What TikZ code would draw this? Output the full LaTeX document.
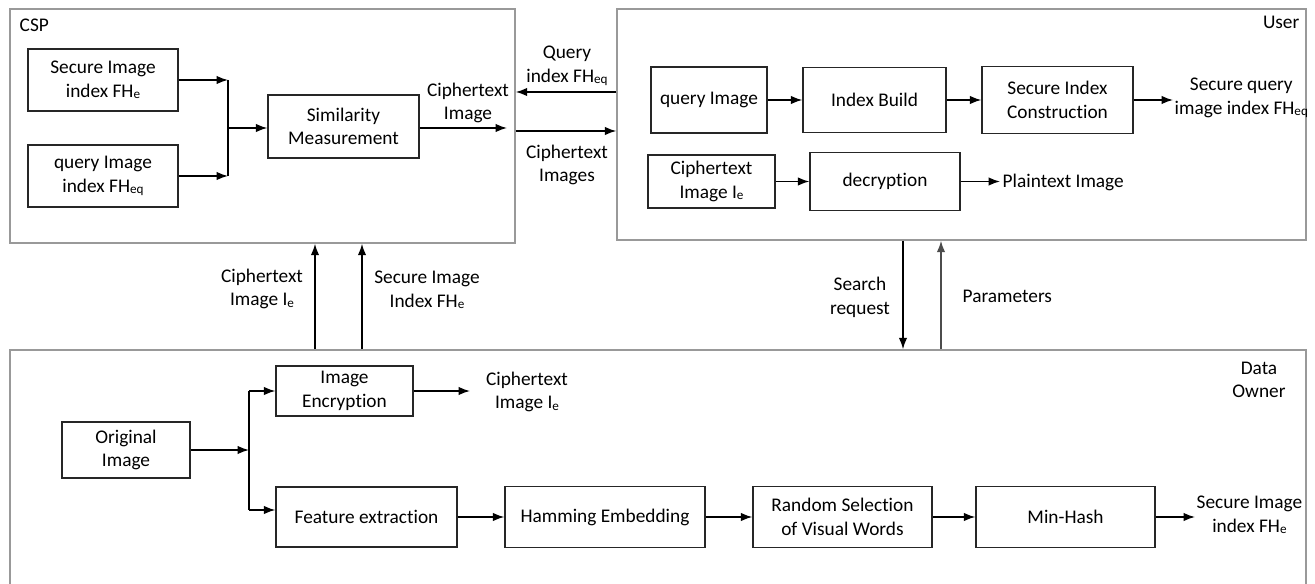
\documentclass[tikz,border=0pt]{standalone}
\usepackage{fontspec}
\setmainfont{Carlito}[Ligatures={NoCommon}]
\usetikzlibrary{%
  arrows.meta,%
  positioning,% wg. " of "
  calc%
}
\newcommand{\lowtxt}[1]{{\fontsize{7.5}{7.5}\selectfont\raisebox{-0.25ex}{#1}}}

\begin{document}
\begin{tikzpicture}
[x=0.02cm, y=-0.02cm, line width=0.8pt, >={Latex[length=6.5pt,width=4.8pt]},
font=\fontsize{11}{13.5}\selectfont,
party/.style={rectangle, draw=black!40, line width=0.9pt, inner sep=0pt},
block/.style={rectangle, draw=black!85, align=center, inner sep=0pt},
tag/.style={align=center, inner sep=0pt}]

\useasboundingbox (0,0) rectangle (1315,584);

% the three parties
\node[party, minimum width=10.1cm, minimum height=4.68cm] (csp) at (262.5,126) {};
\node[party, minimum width=13.78cm, minimum height=4.62cm] (user) at (961.5,124.5) {};
\node[party, minimum width=25.92cm, minimum height=5cm] (owner) at (658,475) {};

\node[tag, anchor=west] (csplbl) at (19,25) {CSP};
\node[tag, anchor=east] (userlbl) at (1300,22) {User};
\node[tag] (ownerlbl) at (1259,380) {Data\\Owner};

% CSP
\node[block, minimum width=3cm, minimum height=1.24cm] (secidx) at (103,80) {Secure Image\\index FH\lowtxt{e}};
\node[block, minimum width=3cm, minimum height=1.24cm] (qryidx) at (103,176) {query Image\\index FH\lowtxt{eq}};
\node[block, minimum width=3.02cm, minimum height=1.26cm] (simm) at (343.5,126.5) {Similarity\\Measurement};
\node[tag] (cimg) at (468,103) {Ciphertext\\Image};

\coordinate (join1) at (228,128);
\coordinate (cimgend) at (507,128);

\draw[->] (secidx) -- (secidx -| join1);
\draw[->] (qryidx) -- (qryidx -| join1);
\draw (secidx -| join1) -- (qryidx -| join1);
\draw[->] (join1) -- (join1 -| simm.west);
\draw[->] (simm.east |- cimgend) -- (cimgend);

% between CSP and User
\node[tag] (qfh) at (567,66) {Query\\index FH\lowtxt{eq}};
\node[tag] (cims) at (567,165) {Ciphertext\\Images};
\coordinate (qline) at (567,92);
\coordinate (cline) at (567,131);

\draw[->] (user.west |- qline) -- (csp.east |- qline);
\draw[->] (csp.east |- cline) -- (user.west |- cline);

% User
\node[block, minimum width=2.32cm, minimum height=1.32cm] (qimg) at (709,100) {query Image};
\node[block, minimum width=2.86cm, minimum height=1.3cm] (idxb) at (874.5,100) {Index Build};
\node[block, minimum width=3.02cm, minimum height=1.34cm] (sic) at (1057.5,100) {Secure Index\\Construction};
\node[tag, anchor=west] (sqi) at (1174,98) {Secure query\\image index FH\lowtxt{eq}};
\node[block, minimum width=2.54cm, minimum height=1.06cm] (cie) at (711.5,181.5) {Ciphertext\\Image I\lowtxt{e}};
\node[block, minimum width=3cm, minimum height=1.16cm] (decr) at (885,181.5) {decryption};
\node[tag, anchor=west] (plain) at (1002,182) {Plaintext Image};

\coordinate (sqiend) at (1173,100);
\coordinate (plainend) at (1000,181.5);

\draw[->] (qimg) -- (idxb);
\draw[->] (idxb) -- (sic);
\draw[->] (sic.east) -- (sqiend);
\draw[->] (cie) -- (decr);
\draw[->] (decr.east) -- (plainend);

% between the parties
\coordinate (up1) at (315,300);
\coordinate (up2) at (362,300);
\coordinate (down1) at (903,300);
\coordinate (up3) at (941,300);

\node[tag] (cielbl) at (262,289) {Ciphertext\\Image I\lowtxt{e}};
\node[tag] (sielbl) at (427,290) {Secure Image\\Index FH\lowtxt{e}};
\node[tag] (srch) at (860,297) {Search\\request};
\node[tag, anchor=west] (param) at (962,296) {Parameters};

\draw[->] (owner.north -| up1) -- (csp.south -| up1);
\draw[->] (owner.north -| up2) -- (csp.south -| up2);
\draw[->] (user.south -| down1) -- (owner.north -| down1);
\draw[->, draw=black!70] (owner.north -| up3) -- (user.south -| up3);

% Data Owner
\node[block, minimum width=2.56cm, minimum height=1.12cm] (orig) at (126,450) {Original\\Image};
\node[block, minimum width=2.74cm, minimum height=1cm] (enc) at (344.5,391) {Image\\Encryption};
\node[tag] (ciedo) at (527,392) {Ciphertext\\Image I\lowtxt{e}};
\node[block, minimum width=3.62cm, minimum height=1.2cm] (feat) at (366.5,517) {Feature extraction};
\node[block, minimum width=4cm, minimum height=1.22cm] (hamm) at (605,517) {Hamming Embedding};
\node[block, minimum width=3.58cm, minimum height=1.22cm] (rsel) at (842.5,517) {Random Selection\\of Visual Words};
\node[block, minimum width=3.58cm, minimum height=1.22cm] (mhash) at (1065.5,517) {Min-Hash};
\node[tag, anchor=west] (sidx) at (1196,515) {Secure Image\\index FH\lowtxt{e}};

\coordinate (join2) at (249,450);
\coordinate (encend) at (470,391);
\coordinate (featin) at (249,510);
\coordinate (sidxend) at (1195,517);

\draw[->] (orig) -- (join2);
\draw (join2 |- enc) -- (featin);
\draw[->] (join2 |- enc) -- (enc);
\draw[->] (featin) -- (featin -| feat.west);
\draw[->] (enc) -- (encend);
\draw[->] (feat) -- (hamm);
\draw[->] (hamm) -- (rsel);
\draw[->] (rsel) -- (mhash);
\draw[->] (mhash) -- (sidxend);

\end{tikzpicture}
\end{document}
